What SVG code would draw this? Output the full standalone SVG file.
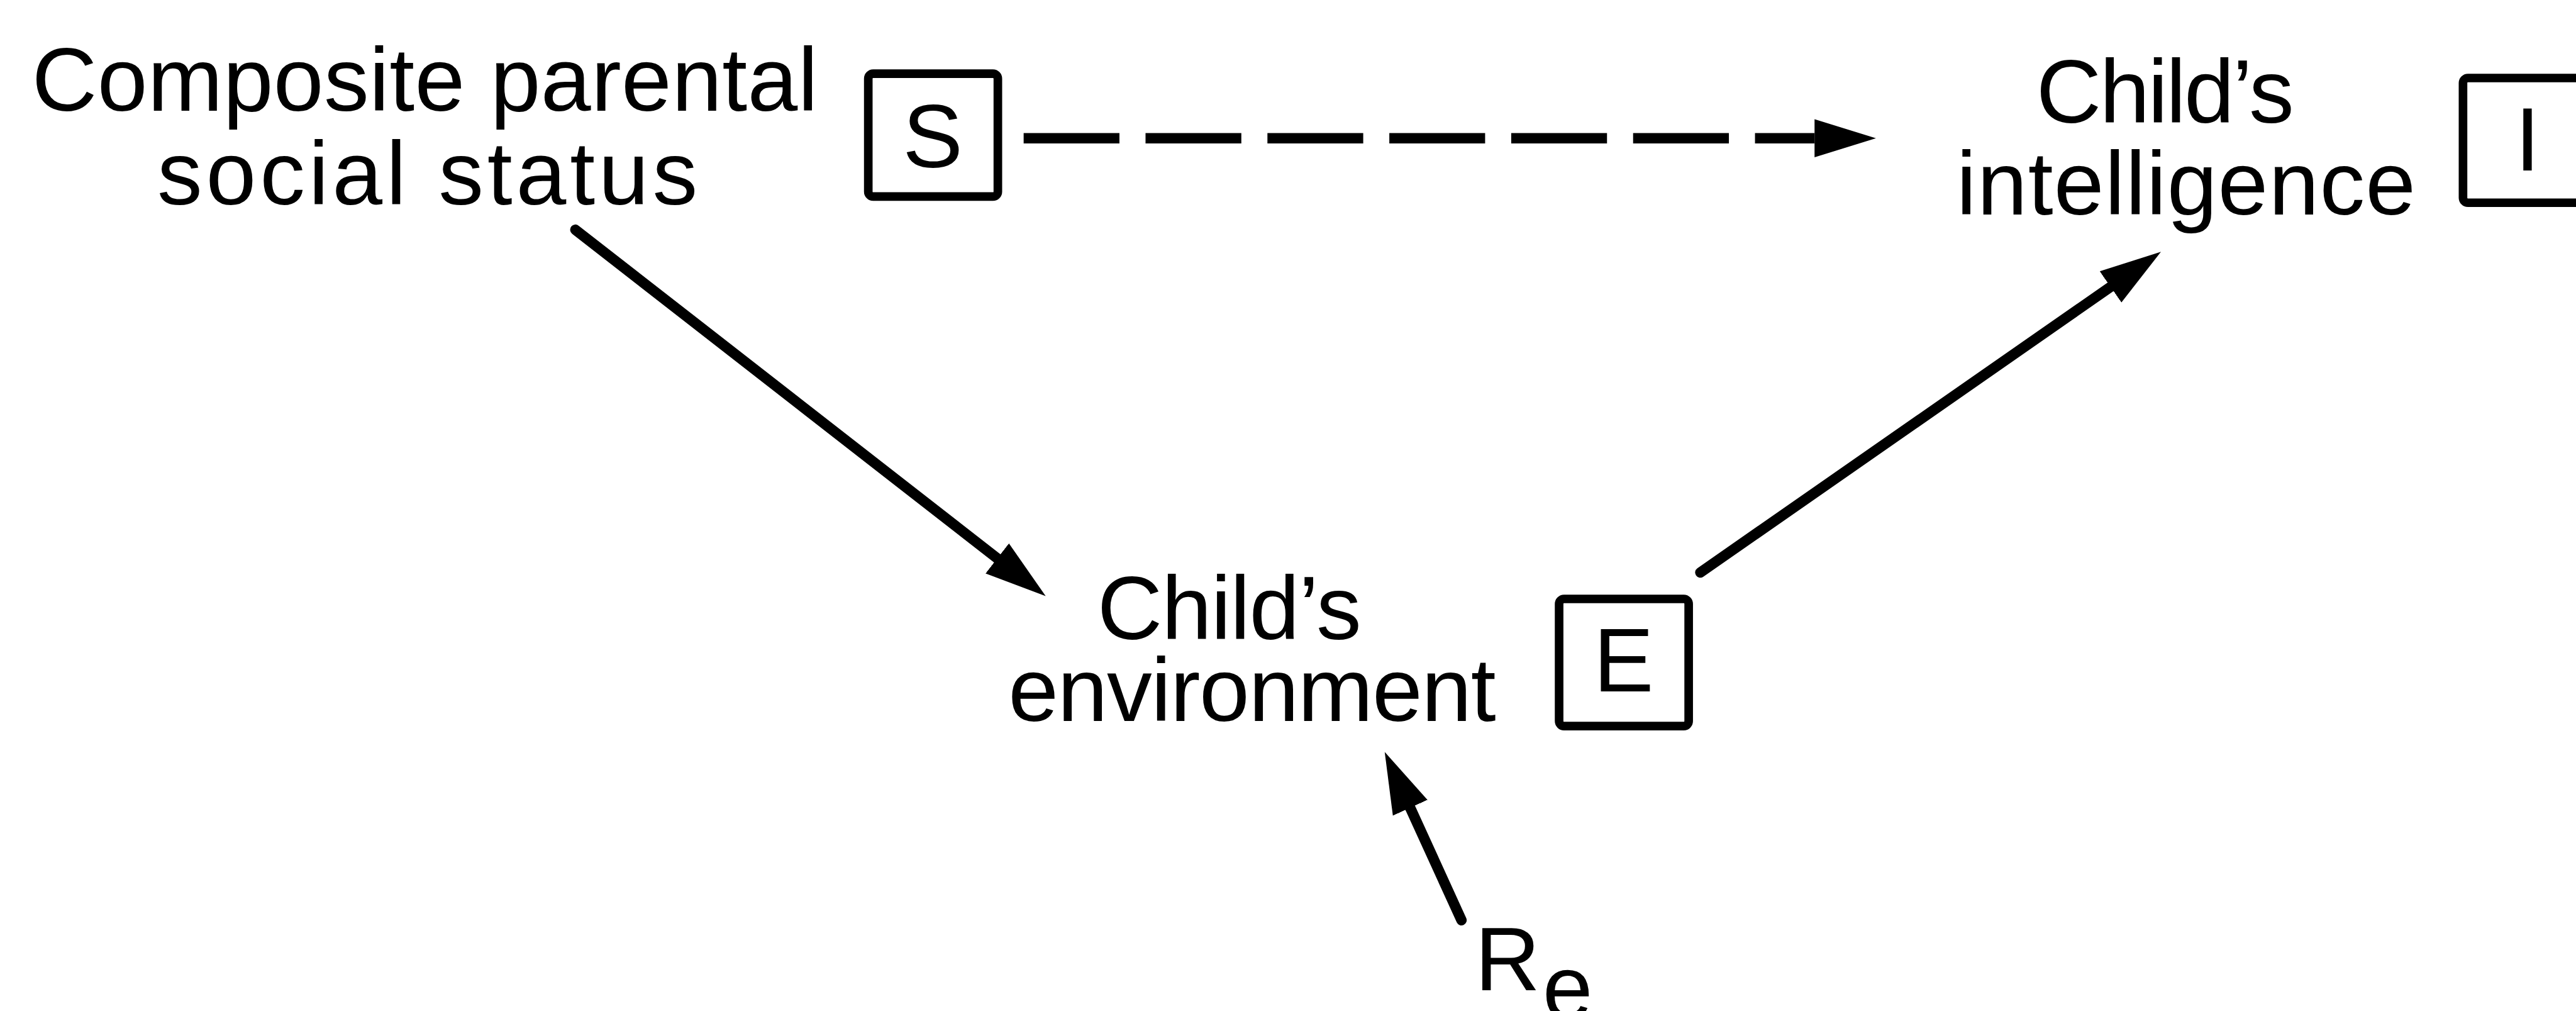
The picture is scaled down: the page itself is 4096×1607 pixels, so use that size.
<svg xmlns="http://www.w3.org/2000/svg" width="4096" height="1607" viewBox="0 0 4096 1607">
  <style>
    .lbl { font-family: "Liberation Sans", Arial, sans-serif; font-size: 147px; fill: #000; }
    .box { fill: none; stroke: #000; stroke-width: 14; }
    .edge { fill: none; stroke: #000; stroke-width: 17; }
    .dash { stroke-dasharray: 156 42.5; }
  </style>
  <defs>
    <!-- solid arrowhead; its base sits at the end of the shaft -->
    <marker id="head" markerUnits="userSpaceOnUse" viewBox="0 0 100 64" markerWidth="100" markerHeight="64" refX="0" refY="32" orient="auto">
      <path d="M0,1 L100,32 L0,63 Z" fill="#000"/>
    </marker>
  </defs>
  <rect width="4096" height="1607" fill="#fff"/>
  <g transform="scale(0.9764)">
    <g id="node-S">
      <text class="lbl" x="52" y="180" textLength="1280" lengthAdjust="spacing">Composite parental</text>
      <text class="lbl" x="256" y="333" textLength="880" lengthAdjust="spacing">social status</text>
      <rect class="box" x="1414" y="120" width="211" height="200" rx="8"/>
      <text class="lbl" x="1519" y="272" text-anchor="middle">S</text>
    </g>
    <g id="node-I">
      <text class="lbl" x="3316" y="200" textLength="420" lengthAdjust="spacing">Child’s</text>
      <text class="lbl" x="3186" y="349" textLength="748" lengthAdjust="spacing">intelligence</text>
      <rect class="box" x="4011" y="127" width="211" height="203" rx="8"/>
      <text class="lbl" x="4116" y="278" text-anchor="middle">I</text>
    </g>
    <g id="node-E">
      <text class="lbl" x="1787" y="1041" textLength="430" lengthAdjust="spacing">Child’s</text>
      <text class="lbl" x="1642" y="1174" textLength="794" lengthAdjust="spacing">environment</text>
      <rect class="box" x="2539" y="975" width="211" height="207" rx="8"/>
      <text class="lbl" x="2644" y="1126" text-anchor="middle">E</text>
    </g>
    <g id="node-Re">
      <text class="lbl" x="2402" y="1612">R<tspan x="2512" y="1658">e</tspan></text>
    </g>
    <g id="connectors">
      <line class="edge dash" x1="1667" y1="225" x2="2955" y2="225" marker-end="url(#head)"/>
      <line class="edge" x1="937" y1="374" x2="1624" y2="909" stroke-linecap="round" marker-end="url(#head)"/>
      <line class="edge" x1="2769" y1="932" x2="3437" y2="467" stroke-linecap="round" marker-end="url(#head)"/>
      <line class="edge" x1="2380" y1="1498" x2="2296.5" y2="1315" stroke-linecap="round" marker-end="url(#head)"/>
    </g>
  </g>
</svg>
